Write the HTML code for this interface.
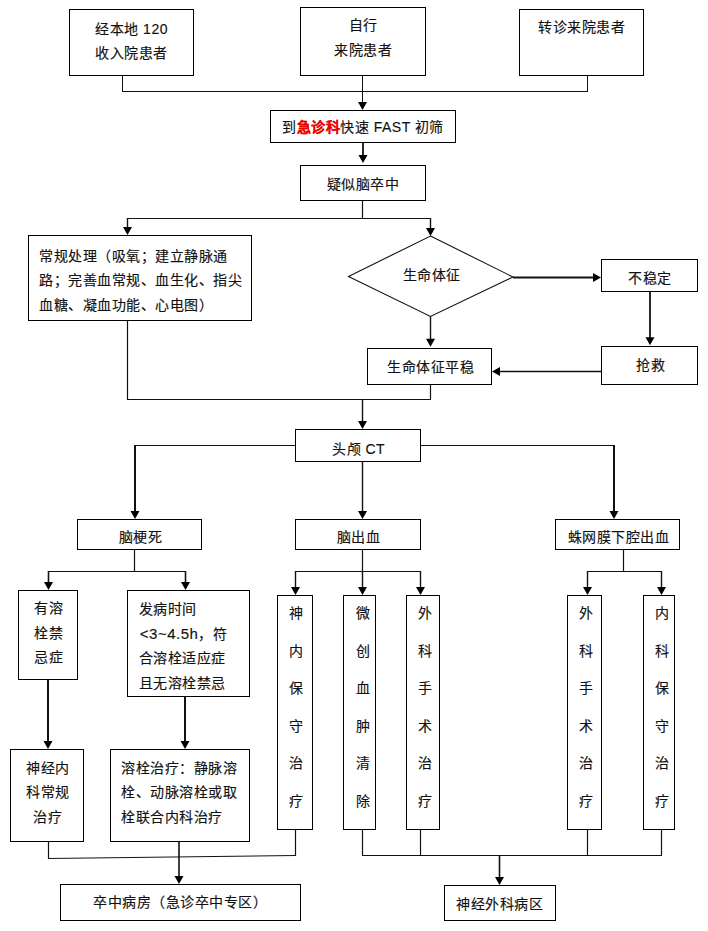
<!DOCTYPE html>
<html lang="zh-CN"><head><meta charset="utf-8"><title>flow</title>
<style>
html,body{margin:0;padding:0;background:#fff;}
body{width:708px;height:931px;overflow:hidden;}
svg{display:block;font-family:"Liberation Sans",sans-serif;font-size:14px;}
rect{fill:#fff;stroke:#000;stroke-width:1;}
line{stroke:#111;}
.d{fill:#fff;stroke:#111;stroke-width:1.1;}
.a{fill:#000;stroke:none;}
text{fill:#111;letter-spacing:0.5px;stroke:#111;stroke-width:0.15px;}
</style></head><body>
<svg width="708" height="931" viewBox="0 0 708 931">
<line x1="122.5" y1="75" x2="122.5" y2="91.5" stroke-width="1"/>
<line x1="587.5" y1="75" x2="587.5" y2="91.5" stroke-width="1"/>
<line x1="362.5" y1="75" x2="362.5" y2="103" stroke-width="1"/>
<line x1="363.0" y1="142" x2="363.0" y2="156" stroke-width="1.8"/>
<line x1="362.5" y1="200" x2="362.5" y2="218.5" stroke-width="1.2"/>
<line x1="127.5" y1="218" x2="127.5" y2="228" stroke-width="1.4"/>
<line x1="430.5" y1="218" x2="430.5" y2="229" stroke-width="1.4"/>
<line x1="650.0" y1="291" x2="650.0" y2="339" stroke-width="1.8"/>
<line x1="430.5" y1="316" x2="430.5" y2="341" stroke-width="1.4"/>
<line x1="127.5" y1="320" x2="127.5" y2="399.5" stroke-width="1.2"/>
<line x1="430.5" y1="384" x2="430.5" y2="399.5" stroke-width="1.2"/>
<line x1="362.5" y1="399" x2="362.5" y2="422" stroke-width="1.4"/>
<line x1="135.0" y1="445" x2="135.0" y2="512" stroke-width="2.0"/>
<line x1="362.5" y1="461" x2="362.5" y2="512" stroke-width="1.4"/>
<line x1="614.0" y1="445" x2="614.0" y2="512" stroke-width="2.0"/>
<line x1="134.5" y1="549" x2="134.5" y2="571.5" stroke-width="1.2"/>
<line x1="48.5" y1="571" x2="48.5" y2="583" stroke-width="1.6"/>
<line x1="185.5" y1="571" x2="185.5" y2="583" stroke-width="1.6"/>
<line x1="362.5" y1="549" x2="362.5" y2="571.5" stroke-width="1.2"/>
<line x1="295.5" y1="571" x2="295.5" y2="588" stroke-width="1.4"/>
<line x1="362.5" y1="571" x2="362.5" y2="588" stroke-width="1.4"/>
<line x1="420.5" y1="571" x2="420.5" y2="588" stroke-width="1.4"/>
<line x1="623.5" y1="549" x2="623.5" y2="571.5" stroke-width="1.2"/>
<line x1="587.5" y1="571" x2="587.5" y2="588" stroke-width="1.4"/>
<line x1="661.5" y1="571" x2="661.5" y2="588" stroke-width="1.4"/>
<line x1="48.0" y1="680" x2="48.0" y2="742" stroke-width="2.0"/>
<line x1="185.0" y1="696" x2="185.0" y2="742" stroke-width="2.0"/>
<line x1="48.5" y1="841" x2="48.5" y2="858.5" stroke-width="1.2"/>
<line x1="295.5" y1="829" x2="295.5" y2="856" stroke-width="1.2"/>
<line x1="179.0" y1="841" x2="179.0" y2="877" stroke-width="1.6"/>
<line x1="362.5" y1="829" x2="362.5" y2="855.5" stroke-width="1.2"/>
<line x1="420.5" y1="829" x2="420.5" y2="855.5" stroke-width="1.2"/>
<line x1="587.5" y1="829" x2="587.5" y2="855.5" stroke-width="1.2"/>
<line x1="661.5" y1="829" x2="661.5" y2="855.5" stroke-width="1.2"/>
<line x1="499.5" y1="855" x2="499.5" y2="878" stroke-width="1.6"/>
<line x1="122" y1="91.5" x2="588" y2="91.5" stroke-width="1"/>
<line x1="127" y1="218.5" x2="431" y2="218.5" stroke-width="1"/>
<line x1="513" y1="277.5" x2="594" y2="277.5" stroke-width="1.8"/>
<line x1="500" y1="371.5" x2="601" y2="371.5" stroke-width="1.6"/>
<line x1="127" y1="399.5" x2="431" y2="399.5" stroke-width="1.2"/>
<line x1="134" y1="445.5" x2="615" y2="445.5" stroke-width="1.2"/>
<line x1="48" y1="571.5" x2="186" y2="571.5" stroke-width="1.2"/>
<line x1="295" y1="571.5" x2="421" y2="571.5" stroke-width="1.2"/>
<line x1="587" y1="571.5" x2="662" y2="571.5" stroke-width="1.2"/>
<line x1="362" y1="855.5" x2="662" y2="855.5" stroke-width="1.2"/>
<line x1="48" y1="858.5" x2="296" y2="855.5" stroke-width="1.2"/>
<rect x="69.5" y="9.5" width="124" height="66"/>
<rect x="300.5" y="7.5" width="125" height="68"/>
<rect x="519.5" y="9.5" width="124" height="66"/>
<rect x="270.5" y="110.5" width="185" height="32"/>
<rect x="300.5" y="165.5" width="125" height="35"/>
<rect x="28.5" y="235.5" width="223" height="85"/>
<rect x="601.5" y="259.5" width="96" height="32"/>
<rect x="601.5" y="346.5" width="96" height="38"/>
<rect x="367.5" y="348.5" width="124" height="36"/>
<rect x="295.5" y="429.5" width="125" height="32"/>
<rect x="77.5" y="519.5" width="124" height="30"/>
<rect x="295.5" y="519.5" width="125" height="30"/>
<rect x="555.5" y="519.5" width="124" height="30"/>
<rect x="18.5" y="590.5" width="59" height="89"/>
<rect x="127.5" y="590.5" width="122" height="106"/>
<rect x="10.5" y="749.5" width="73" height="92"/>
<rect x="110.5" y="749.5" width="139" height="92"/>
<rect x="277.5" y="595.5" width="35" height="234"/>
<rect x="343.5" y="595.5" width="32" height="234"/>
<rect x="406.5" y="595.5" width="33" height="234"/>
<rect x="567.5" y="595.5" width="34" height="234"/>
<rect x="643.5" y="595.5" width="31" height="234"/>
<rect x="60.5" y="884.5" width="240" height="36"/>
<rect x="444.5" y="885.5" width="111" height="35"/>
<polygon class="d" points="430.5,236 513,277 430.5,316.5 348.5,276.5"/>
<polygon class="a" points="358.0,102 367.0,102 362.5,110"/>
<polygon class="a" points="358.5,155 367.5,155 363,163"/>
<polygon class="a" points="123.0,227 132.0,227 127.5,235"/>
<polygon class="a" points="426.0,228 435.0,228 430.5,236"/>
<polygon class="a" points="593,273.0 593,282.0 601,277.5"/>
<polygon class="a" points="645.5,337.3 654.5,337.3 650,345.3"/>
<polygon class="a" points="500,367.0 500,376.0 492,371.5"/>
<polygon class="a" points="426.0,338.7 435.0,338.7 430.5,346.7"/>
<polygon class="a" points="358.0,421 367.0,421 362.5,429"/>
<polygon class="a" points="130.5,511 139.5,511 135,519"/>
<polygon class="a" points="358.0,511 367.0,511 362.5,519"/>
<polygon class="a" points="609.5,511 618.5,511 614,519"/>
<polygon class="a" points="44.0,582 53.0,582 48.5,590"/>
<polygon class="a" points="181.0,582 190.0,582 185.5,590"/>
<polygon class="a" points="291.0,587 300.0,587 295.5,595"/>
<polygon class="a" points="358.0,587 367.0,587 362.5,595"/>
<polygon class="a" points="416.0,587 425.0,587 420.5,595"/>
<polygon class="a" points="583.0,587 592.0,587 587.5,595"/>
<polygon class="a" points="657.0,587 666.0,587 661.5,595"/>
<polygon class="a" points="43.5,741 52.5,741 48,749"/>
<polygon class="a" points="180.5,741 189.5,741 185,749"/>
<polygon class="a" points="174.5,876 183.5,876 179,884"/>
<polygon class="a" points="495.0,877 504.0,877 499.5,885"/>
<text x="131.6" y="33.60" text-anchor="middle">经本地 120</text>
<text x="131.6" y="57.70" text-anchor="middle">收入院患者</text>
<text x="363.1" y="30.40" text-anchor="middle">自行</text>
<text x="363.1" y="55.10" text-anchor="middle">来院患者</text>
<text x="581.6" y="32.20" text-anchor="middle">转诊来院患者</text>
<text x="363.1" y="132.20" text-anchor="middle">到<tspan fill="#e00" stroke="#e00" stroke-width="0.1" font-weight="bold">急诊科</tspan>快速 FAST 初筛</text>
<text x="363.1" y="188.50" text-anchor="middle">疑似脑卒中</text>
<text x="39" y="260.50" text-anchor="start">常规处理（吸氧；建立静脉通</text>
<text x="39" y="285.10" text-anchor="start">路；完善血常规、血生化、指尖</text>
<text x="39" y="309.70" text-anchor="start">血糖、凝血功能、心电图）</text>
<text x="431.6" y="280.40" text-anchor="middle">生命体征</text>
<text x="650.1" y="282.50" text-anchor="middle">不稳定</text>
<text x="650.6" y="370.20" text-anchor="middle">抢救</text>
<text x="430.6" y="371.50" text-anchor="middle">生命体征平稳</text>
<text x="358.6" y="453.60" text-anchor="middle">头颅 CT</text>
<text x="140.6" y="542.40" text-anchor="middle">脑梗死</text>
<text x="358.6" y="542.40" text-anchor="middle">脑出血</text>
<text x="618.6" y="542.40" text-anchor="middle">蛛网膜下腔出血</text>
<text x="48.6" y="613.30" text-anchor="middle">有溶</text>
<text x="48.6" y="637.80" text-anchor="middle">栓禁</text>
<text x="48.6" y="662.30" text-anchor="middle">忌症</text>
<text x="138.5" y="614.10" text-anchor="start">发病时间</text>
<text x="139.8" y="638.60" text-anchor="start"><tspan font-size="15">&lt;3~4.5h</tspan>，符</text>
<text x="138.5" y="663.10" text-anchor="start">合溶栓适应症</text>
<text x="138.5" y="687.60" text-anchor="start">且无溶栓禁忌</text>
<text x="47.9" y="772.50" text-anchor="middle">神经内</text>
<text x="47.9" y="797.00" text-anchor="middle">科常规</text>
<text x="47.9" y="821.50" text-anchor="middle">治疗</text>
<text x="121" y="772.70" text-anchor="start">溶栓治疗：静脉溶</text>
<text x="121" y="797.20" text-anchor="start">栓、动脉溶栓或取</text>
<text x="121" y="821.70" text-anchor="start">栓联合内科治疗</text>
<text x="296.0" y="618.00" text-anchor="middle">神</text>
<text x="296.0" y="655.55" text-anchor="middle">内</text>
<text x="296.0" y="693.10" text-anchor="middle">保</text>
<text x="296.0" y="730.65" text-anchor="middle">守</text>
<text x="296.0" y="768.20" text-anchor="middle">治</text>
<text x="296.0" y="805.75" text-anchor="middle">疗</text>
<text x="362.90000000000003" y="618.00" text-anchor="middle">微</text>
<text x="362.90000000000003" y="655.55" text-anchor="middle">创</text>
<text x="362.90000000000003" y="693.10" text-anchor="middle">血</text>
<text x="362.90000000000003" y="730.65" text-anchor="middle">肿</text>
<text x="362.90000000000003" y="768.20" text-anchor="middle">清</text>
<text x="362.90000000000003" y="805.75" text-anchor="middle">除</text>
<text x="425.0" y="618.00" text-anchor="middle">外</text>
<text x="425.0" y="655.55" text-anchor="middle">科</text>
<text x="425.0" y="693.10" text-anchor="middle">手</text>
<text x="425.0" y="730.65" text-anchor="middle">术</text>
<text x="425.0" y="768.20" text-anchor="middle">治</text>
<text x="425.0" y="805.75" text-anchor="middle">疗</text>
<text x="585.8000000000001" y="618.00" text-anchor="middle">外</text>
<text x="585.8000000000001" y="655.55" text-anchor="middle">科</text>
<text x="585.8000000000001" y="693.10" text-anchor="middle">手</text>
<text x="585.8000000000001" y="730.65" text-anchor="middle">术</text>
<text x="585.8000000000001" y="768.20" text-anchor="middle">治</text>
<text x="585.8000000000001" y="805.75" text-anchor="middle">疗</text>
<text x="662.1" y="618.00" text-anchor="middle">内</text>
<text x="662.1" y="655.55" text-anchor="middle">科</text>
<text x="662.1" y="693.10" text-anchor="middle">保</text>
<text x="662.1" y="730.65" text-anchor="middle">守</text>
<text x="662.1" y="768.20" text-anchor="middle">治</text>
<text x="662.1" y="805.75" text-anchor="middle">疗</text>
<text x="93" y="906.90" text-anchor="start">卒中病房（急诊卒中专区）</text>
<text x="499.6" y="908.50" text-anchor="middle">神经外科病区</text>
</svg>
</body></html>
